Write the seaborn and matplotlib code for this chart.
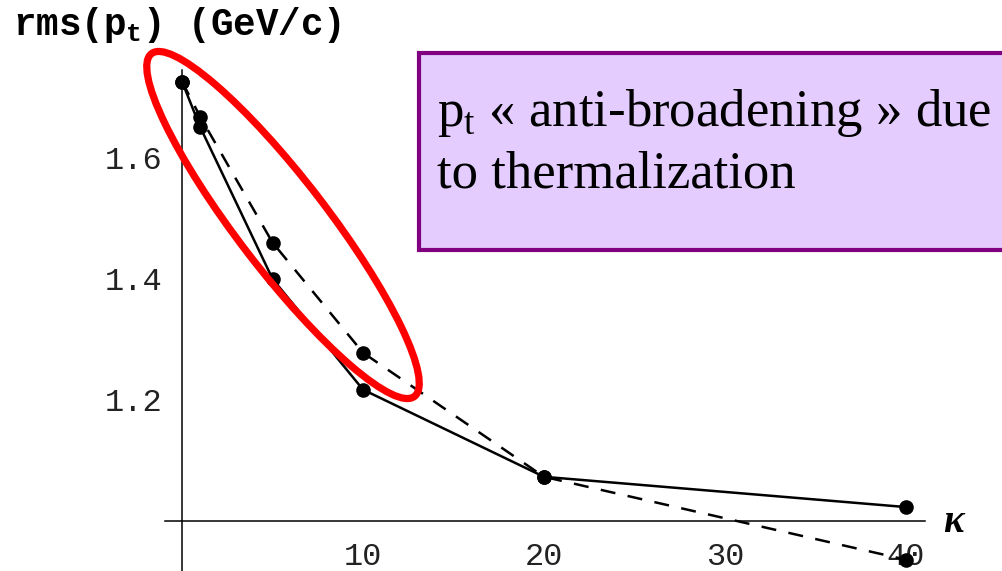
import numpy as np
import pandas as pd
import matplotlib
matplotlib.use("Agg")
import matplotlib.pyplot as plt
from matplotlib.patches import Ellipse, Rectangle
from matplotlib.transforms import IdentityTransform
from matplotlib.ticker import MultipleLocator, FixedLocator
import seaborn as sns

# ---- data ----
kappa = [0, 1, 5, 10, 20, 40]
rms_solid = [1.726, 1.651, 1.400, 1.217, 1.073, 1.023]
rms_dashed = [1.726, 1.668, 1.460, 1.278, 1.073, 0.936]
x_major_ticks = [10, 20, 30, 40]
y_major_ticks = [1.2, 1.4, 1.6]
y_label = "rms(p$_\\mathregular{t}$) (GeV/c)"
x_label = "κ"
note_line1 = "p$_\\mathregular{t}$ « anti-broadening » due"
note_line2 = "to thermalization"

sns.set_style("white")
plt.rcParams["font.family"] = ["Liberation Mono", "DejaVu Sans Mono"]
plt.rcParams["text.color"] = "black"

W, H = 1003, 571
fig = plt.figure(figsize=(W / 100, H / 100), dpi=100)
ax = fig.add_axes([165 / W, 0.0, 760 / W, (H - 70) / H])
ax.set_xlim(-0.94, 41.05)
ax.set_ylim(0.9174, 1.745)
ax.patch.set_alpha(0)

df_s = pd.DataFrame({"kappa": kappa, "rms": rms_solid})
df_d = pd.DataFrame({"kappa": kappa, "rms": rms_dashed})
sns.lineplot(data=df_s, x="kappa", y="rms", ax=ax, color="black", lw=1.8,
             marker="o", markersize=10.5, markeredgewidth=0, clip_on=False)
sns.lineplot(data=df_d, x="kappa", y="rms", ax=ax, color="black", lw=1.8,
             linestyle=(0, (6, 5)), marker="o", markersize=10.5,
             markeredgewidth=0, clip_on=False)

# axes crossing at (0, 1.0)
for s in ["top", "right"]:
    ax.spines[s].set_visible(False)
ax.spines["left"].set_position(("data", 0))
ax.spines["bottom"].set_position(("data", 1.0))
for s in ["left", "bottom"]:
    ax.spines[s].set_color("black")
    ax.spines[s].set_linewidth(1.1)

ax.xaxis.set_major_locator(FixedLocator(x_major_ticks))
ax.xaxis.set_minor_locator(MultipleLocator(2))
ax.yaxis.set_major_locator(FixedLocator(y_major_ticks))
ax.yaxis.set_minor_locator(MultipleLocator(0.05))
ax.tick_params(which="both", direction="in", color="black", width=0.8)
ax.tick_params(which="major", length=4.5)
ax.tick_params(which="minor", length=2.5)
ax.tick_params(axis="x", which="major", pad=15, labelsize=23, labelcolor="#222222")
ax.tick_params(axis="y", which="major", pad=14, labelsize=23, labelcolor="#222222")
ax.set_xticklabels([str(v) for v in x_major_ticks])
ax.set_yticklabels([f"{v:.1f}" for v in y_major_ticks])
ax.set_xlabel("")
ax.set_ylabel("")
ax.grid(False)

# axis titles
fig.text(13 / W, (H - 35) / H, y_label, fontsize=27, fontweight="bold",
         ha="left", va="baseline", color="black",
         family=["Liberation Mono", "DejaVu Sans Mono"])
fig.text(943 / W, (H - 532) / H, x_label, fontsize=28, fontweight="bold",
         style="italic", ha="left", va="baseline", color="black",
         family=["Liberation Serif", "DejaVu Serif"])

# annotation box
box = Rectangle((419 / W, (H - 250) / H), (1010 - 419) / W, (250 - 53) / H,
                transform=fig.transFigure, facecolor="#E4CCFF",
                edgecolor="#800080", linewidth=3, clip_on=False)
fig.add_artist(box)
fig.text(437 / W, (H - 126) / H, note_line1, fontsize=38, ha="left",
         va="baseline", color="black",
         family=["Liberation Serif", "DejaVu Serif"])
fig.text(437 / W, (H - 188) / H, note_line2, fontsize=38, ha="left",
         va="baseline", color="black",
         family=["Liberation Serif", "DejaVu Serif"])

# red highlight ellipse (pixel coordinates)
ell = Ellipse((283, H - 225), width=432, height=90, angle=-52.5,
              transform=IdentityTransform(), fill=False, edgecolor="#FF0000",
              linewidth=5.2, clip_on=False)
fig.add_artist(ell)

fig.savefig("out.png", dpi=100)
